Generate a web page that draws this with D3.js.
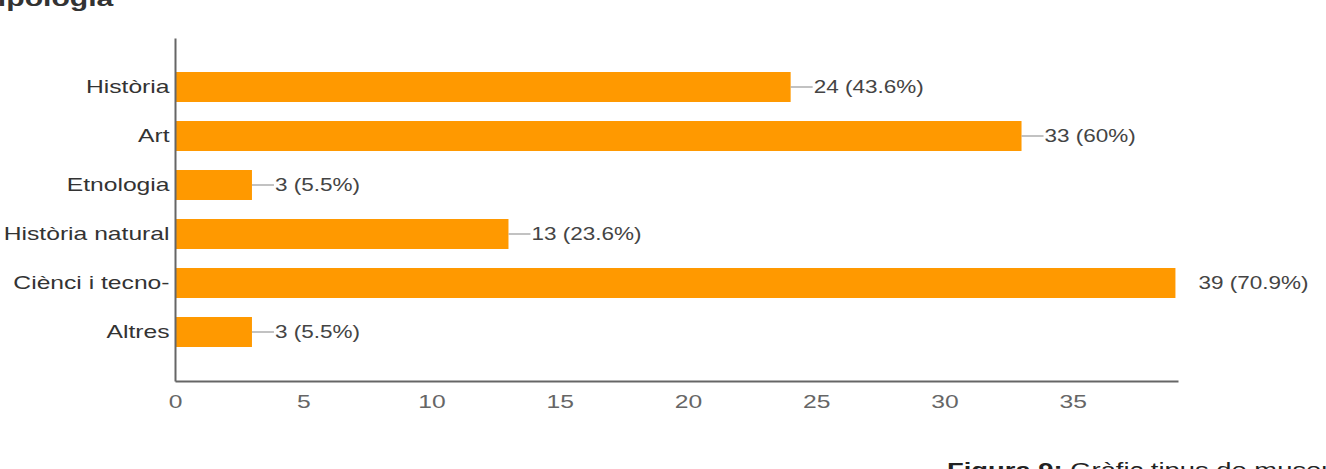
<!DOCTYPE html>
<html>
<head>
<meta charset="utf-8">
<script src="https://cdn.jsdelivr.net/npm/d3@7"></script>
<style>
  body { margin: 0; background: #fff; }
  svg { font-family: "Liberation Sans", Arial, sans-serif; }
</style>
</head>
<body>
<svg id="drawing_region"></svg>
<script>
// data
const categories = ['Història', 'Art', 'Etnologia', 'Història natural', 'Ciènci i tecno-', 'Altres'];
const counts = [24, 33, 3, 13, 39, 3];
const labels = ['24 (43.6%)', '33 (60%)', '3 (5.5%)', '13 (23.6%)', '39 (70.9%)', '3 (5.5%)'];
const xticks = [0, 5, 10, 15, 20, 25, 30, 35];

const data = categories.map((c, i) => ({ name: c, value: counts[i], label: labels[i] }));

const config = {
    width: 1326,
    height: 469,
    margin: { top: 38, right: 148, bottom: 88, left: 175 }
};

// the source image is stretched sideways, so the texts are too
const stretch = 'scale(1.37,1)';
const stretch_val = 'scale(1.25,1)';

const svg = d3.select('#drawing_region')
    .attr('width', config.width)
    .attr('height', config.height);

const inner_width = config.width - config.margin.left - config.margin.right;
const inner_height = config.height - config.margin.top - config.margin.bottom;

const chart = svg.append('g')
    .attr('transform', `translate(${config.margin.left}, ${config.margin.top})`);

const xscale = d3.scaleLinear()
    .domain([0, 39.1])
    .range([0, inner_width]);

const yscale = d3.scaleBand()
    .domain(categories)
    .range([0, inner_height])
    .paddingInner(0.388)
    .paddingOuter(0.694);

// bars
chart.selectAll('rect.bar')
    .data(data)
    .enter()
    .append('rect')
    .attr('class', 'bar')
    .attr('x', 0)
    .attr('y', d => yscale(d.name))
    .attr('width', d => xscale(d.value))
    .attr('height', yscale.bandwidth())
    .attr('fill', '#ff9900');

// connector lines + value labels
chart.selectAll('line.conn')
    .data(data)
    .enter()
    .append('line')
    .attr('class', 'conn')
    .attr('x1', d => xscale(d.value))
    .attr('x2', d => xscale(d.value) + 22)
    .attr('y1', d => yscale(d.name) + yscale.bandwidth() / 2)
    .attr('y2', d => yscale(d.name) + yscale.bandwidth() / 2)
    .attr('stroke', d => d.value === d3.max(counts) ? 'none' : '#999')
    .attr('stroke-width', 1.2);

chart.selectAll('text.val')
    .data(data)
    .enter()
    .append('text')
    .attr('class', 'val')
    .attr('transform', d => `translate(${xscale(d.value) + 23}, ${yscale(d.name) + yscale.bandwidth() / 2}) ${stretch_val}`)
    .attr('dy', '0.35em')
    .attr('font-size', 18)
    .attr('fill', '#444')
    .text(d => d.label);

// axes
const xaxis = d3.axisBottom(xscale)
    .tickValues(xticks)
    .tickSize(0)
    .tickPadding(14);

const xaxis_group = chart.append('g')
    .attr('transform', `translate(0, ${inner_height})`)
    .call(xaxis);
xaxis_group.select('.domain').attr('stroke', '#666').attr('stroke-width', 2);
xaxis_group.selectAll('text')
    .attr('font-size', 18)
    .attr('fill', '#666')
    .attr('font-family', '"Liberation Sans", Arial, sans-serif')
    .attr('transform', stretch);

const yaxis = d3.axisLeft(yscale)
    .tickSize(0)
    .tickPadding(4);

const yaxis_group = chart.append('g')
    .call(yaxis);
yaxis_group.select('.domain').attr('stroke', '#666').attr('stroke-width', 2);
yaxis_group.selectAll('text')
    .attr('font-size', 18)
    .attr('fill', '#333')
    .attr('font-family', '"Liberation Sans", Arial, sans-serif')
    .attr('transform', stretch);

// clipped title and caption from the surrounding document
svg.append('text')
    .attr('transform', `translate(-20, 6) ${stretch}`)
    .attr('font-size', 22)
    .attr('font-weight', 'bold')
    .attr('fill', '#333')
    .text('Tipologia');

const caption = svg.append('text')
    .attr('transform', `translate(947, 477) ${stretch}`)
    .attr('font-size', 20)
    .attr('fill', '#222');
caption.append('tspan').attr('font-weight', 'bold').text('Figura 9:');
caption.append('tspan').text(' Gràfic tipus de museu');
</script>
</body>
</html>
